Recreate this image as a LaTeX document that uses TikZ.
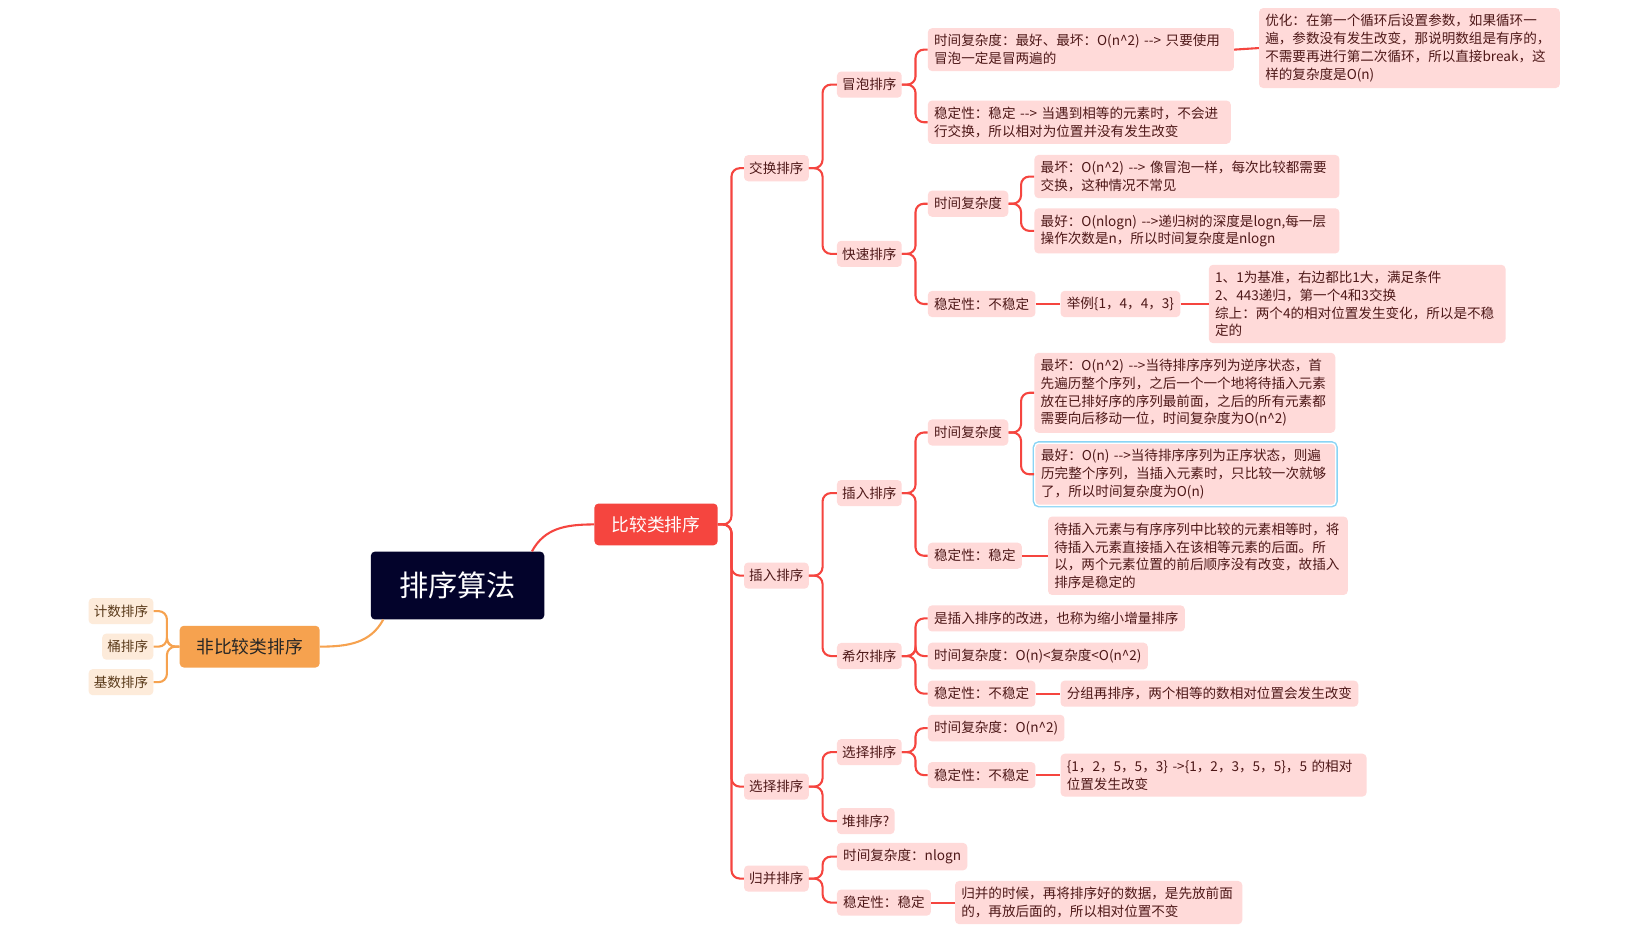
\documentclass[tikz,border=0pt]{standalone}
\usepackage{fontspec}
\setmainfont{Noto Sans CJK SC}
\definecolor{navyc}{HTML}{03032B}
\definecolor{redc}{HTML}{F5453F}
\definecolor{pinkc}{HTML}{FFDAD9}
\definecolor{txtc}{HTML}{4E1818}
\definecolor{orc}{HTML}{F6A24F}
\definecolor{creamc}{HTML}{FDEBDA}
\definecolor{creamtxt}{HTML}{5A3A1A}
\definecolor{bluec}{HTML}{8AD4F5}
\newcommand\arr{\mbox{-}\mbox{-}>}
\newcommand\hc{\textasciicircum}
\tikzset{
  leaf/.style={fill=pinkc, rounded corners=4pt, text=txtc, font=\fontsize{13}{17}\selectfont,
    inner xsep=6pt, inner ysep=6pt, minimum height=25pt, anchor=west, align=left},
  selected/.style={preaction={draw=bluec, line width=4pt}, draw=white, line width=1.2pt},
  lchild/.style={fill=creamc, rounded corners=4pt, text=creamtxt, font=\fontsize{13}{17}\selectfont,
    inner xsep=5pt, inner ysep=5pt, minimum height=25pt, anchor=east},
  rootbox/.style={fill=navyc, rounded corners=4pt, text=white, font=\fontsize{28}{32}\selectfont,
    minimum width=166pt, minimum height=65pt},
  redbox/.style={fill=redc, rounded corners=4pt, text=white, font=\fontsize{17}{20}\selectfont,
    minimum width=118pt, minimum height=40pt},
  orbox/.style={fill=orc, rounded corners=4pt, text=black!85, font=\fontsize{17}{20}\selectfont,
    minimum width=134pt, minimum height=40pt},
  conn/.style={draw=redc, line width=2pt, rounded corners=8pt},
  oconn/.style={draw=orc, line width=2pt, rounded corners=8pt},
}
\begin{document}
\begin{tikzpicture}[x=1pt,y=-1pt]
\useasboundingbox[fill=white] (0,0) rectangle (1568,892);

% root and level 1
\node[rootbox] (root) at (438,560.5) {排序算法};
\node[redbox] (cmp) at (628,502) {比较类排序};
\node[orbox] (ncmp) at (239,619) {非比较类排序};

% non-comparison children
\node[lchild] (c1) at (147,585) {计数排序};
\node[lchild] (c2) at (147,619) {桶排序};
\node[lchild] (c3) at (147,653) {基数排序};

% level 2
\node[leaf, inner xsep=5pt] (a1) at (712,161) {交换排序};
\node[leaf, inner xsep=5pt] (a2) at (712,551) {插入排序};
\node[leaf, inner xsep=5pt] (a3) at (712,753) {选择排序};
\node[leaf, inner xsep=5pt] (a4) at (712,841) {归并排序};

% level 3
\node[leaf, inner xsep=5pt] (b1) at (801,81) {冒泡排序};
\node[leaf, inner xsep=5pt] (b2) at (801,243) {快速排序};
\node[leaf, inner xsep=5pt] (b3) at (801,472) {插入排序};
\node[leaf, inner xsep=5pt] (b4) at (801,628) {希尔排序};
\node[leaf, inner xsep=5pt] (b5) at (801,720) {选择排序};
\node[leaf, inner xsep=5pt] (b6) at (801,786) {堆排序?};
\node[leaf] (b7) at (801,820) {时间复杂度：nlogn};
\node[leaf] (b8) at (801,864) {稳定性：稳定};

% bubble
\node[leaf, text width=281pt] (bubt) at (888,47.5) {时间复杂度：最好、最坏：O(n\hc{}2)~\arr{}~只要使用\\冒泡一定是冒两遍的};
\node[leaf, text width=276pt] (bubo) at (1205,46) {优化：在第一个循环后设置参数，如果循环一\\遍，参数没有发生改变，那说明数组是有序的，\\不需要再进行第二次循环，所以直接break，这\\样的复杂度是O(n)};
\node[leaf, text width=278pt] (bubs) at (888,117) {稳定性：稳定~\arr{}~当遇到相等的元素时，不会进\\行交换，所以相对为位置并没有发生改变};

% quick
\node[leaf] (qkt) at (888,195) {时间复杂度};
\node[leaf, text width=280pt] (qkw) at (990,169) {最坏：O(n\hc{}2)~\arr{}~像冒泡一样，每次比较都需要\\交换，这种情况不常见};
\node[leaf, text width=280pt] (qkb) at (990,221) {最好：O(nlogn)~\arr{}递归树的深度是logn,每一层\\操作次数是n，所以时间复杂度是nlogn};
\node[leaf] (qks) at (888,291) {稳定性：不稳定};
\node[leaf] (qke) at (1015,291) {举例\{1，4，4，3\}};
\node[leaf, text width=272pt] (qkd) at (1157,291) {1、1为基准，右边都比1大，满足条件\\2、443递归，第一个4和3交换\\综上：两个4的相对位置发生变化，所以是不稳\\定的};

% insertion
\node[leaf] (int) at (888,414) {时间复杂度};
\node[leaf, text width=276pt] (inw) at (990,376) {最坏：O(n\hc{}2)~\arr{}当待排序序列为逆序状态，首\\先遍历整个序列，之后一个一个地将待插入元素\\放在已排好序的序列最前面，之后的所有元素都\\需要向后移动一位，时间复杂度为O(n\hc{}2)};
\node[leaf, text width=276pt, selected] (inb) at (990,454) {最好：O(n)~\arr{}当待排序序列为正序状态，则遍\\历完整个序列，当插入元素时，只比较一次就够\\了，所以时间复杂度为O(n)};
\node[leaf] (ins) at (888,532) {稳定性：稳定};
\node[leaf, text width=275pt] (insd) at (1003,532) {待插入元素与有序序列中比较的元素相等时，将\\待插入元素直接插入在该相等元素的后面。所\\以，两个元素位置的前后顺序没有改变，故插入\\排序是稳定的};

% shell
\node[leaf] (sh1) at (888,592) {是插入排序的改进，也称为缩小增量排序};
\node[leaf] (sh2) at (888,628) {时间复杂度：O(n)<复杂度<O(n\hc{}2)};
\node[leaf] (sh3) at (888,664) {稳定性：不稳定};
\node[leaf] (sh3d) at (1015,664) {分组再排序，两个相等的数相对位置会发生改变};

% selection
\node[leaf] (selt) at (888,697) {时间复杂度：O(n\hc{}2)};
\node[leaf] (sels) at (888,742) {稳定性：不稳定};
\node[leaf, text width=281pt] (selsd) at (1015,742) {\{1，2，5，5，3\}~->\{1，2，3，5，5\}，5~的相对\\位置发生改变};

% merge
\node[leaf, text width=263pt] (mgsd) at (914,864) {归并的时候，再将排序好的数据，是先放前面\\的，再放后面的，所以相对位置不变};

% connectors: root
\draw[conn] ([xshift=-12pt]root.north east) .. controls +(12,-22) and +(-28,0) .. (cmp.west);
\draw[oconn] ([xshift=12pt]root.south west) .. controls +(-12,22) and +(28,0) .. (ncmp.east);
\foreach \c in {c1,c2,c3} \draw[oconn] (ncmp.west) -- ++(-12,0) |- (\c.east);

% level 2
\foreach \c in {a1,a2,a3,a4} \draw[conn] (cmp.east) -- ++(13,0) |- (\c.west);
\foreach \c in {b1,b2} \draw[conn] (a1.east) -- ++(13,0) |- (\c.west);
\foreach \c in {b3,b4} \draw[conn] (a2.east) -- ++(13,0) |- (\c.west);
\foreach \c in {b5,b6} \draw[conn] (a3.east) -- ++(13,0) |- (\c.west);
\foreach \c in {b7,b8} \draw[conn] (a4.east) -- ++(13,0) |- (\c.west);

% level 3
\foreach \c in {bubt,bubs} \draw[conn] (b1.east) -- ++(13,0) |- (\c.west);
\foreach \c in {qkt,qks} \draw[conn] (b2.east) -- ++(13,0) |- (\c.west);
\foreach \c in {int,ins} \draw[conn] (b3.east) -- ++(13,0) |- (\c.west);
\foreach \c in {sh1,sh2,sh3} \draw[conn] (b4.east) -- ++(13,0) |- (\c.west);
\foreach \c in {selt,sels} \draw[conn] (b5.east) -- ++(13,0) |- (\c.west);
\draw[conn] (b8.east) -- (mgsd.west);

% level 4
\draw[conn] (bubt.east) -- (bubo.west);
\foreach \c in {qkw,qkb} \draw[conn] (qkt.east) -- ++(12,0) |- (\c.west);
\draw[conn] (qks.east) -- (qke.west);
\draw[conn] (qke.east) -- (qkd.west);
\foreach \c in {inw,inb} \draw[conn] (int.east) -- ++(12,0) |- (\c.west);
\draw[conn] (ins.east) -- (insd.west);
\draw[conn] (sh3.east) -- (sh3d.west);
\draw[conn] (sels.east) -- (selsd.west);
\end{tikzpicture}
\end{document}
